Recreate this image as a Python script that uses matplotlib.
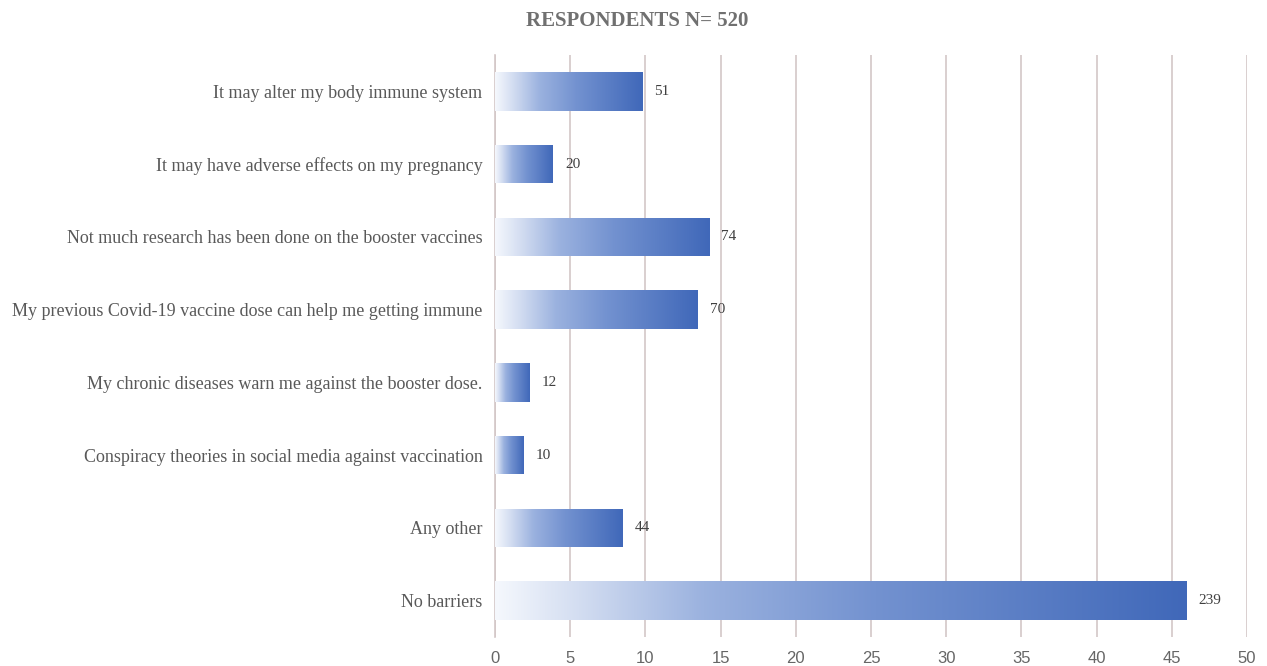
import matplotlib.pyplot as plt
from matplotlib.colors import LinearSegmentedColormap
import numpy as np

# Data
categories = [
    'It may alter my body immune system',
    'It may have adverse effects on my pregnancy',
    'Not much research has been done on the booster vaccines',
    'My previous Covid-19 vaccine dose can help me getting immune',
    'My chronic diseases warn me against the booster dose.',
    'Conspiracy theories in social media against vaccination',
    'Any other',
    'No barriers',
]
counts = [51, 20, 74, 70, 12, 10, 44, 239]
total = 520
percents = [c / total * 100 for c in counts]
x_ticks = [0, 5, 10, 15, 20, 25, 30, 35, 40, 45, 50]

serif = ['Liberation Serif', 'DejaVu Serif']
narrow = ['Liberation Sans Narrow', 'Liberation Sans', 'DejaVu Sans']

# Gradient colours (light on the left, blue on the right)
grad = LinearSegmentedColormap.from_list('bar_grad', [
    (0.0, '#f5f8fd'),
    (0.12, '#d3ddf1'),
    (0.3, '#9bb2df'),
    (0.55, '#7392d0'),
    (1.0, '#4068b9'),
])

fig = plt.figure(figsize=(12.67, 6.66), dpi=100)
ax = fig.add_axes([0.3907, 0.0435, 0.5935, 0.874])

y = np.arange(len(categories))
bars = ax.barh(y, percents, height=0.53, color='none', edgecolor='none')

gradient = np.linspace(0, 1, 256).reshape(1, -1)
for bar in bars:
    x0, y0 = bar.get_x(), bar.get_y()
    w, h = bar.get_width(), bar.get_height()
    im = ax.imshow(gradient, cmap=grad, aspect='auto', interpolation='bicubic',
                   extent=[x0, x0 + w, y0 + h, y0], zorder=3)
    im.set_clip_path(bar)

# Value labels
for yi, p, c in zip(y, percents, counts):
    ax.text(p + 0.8, yi, str(c), va='center', ha='left', fontsize=11,
            color='#404040', family=serif, zorder=4)

ax.set_xlim(0, 50)
ax.set_ylim(len(categories) - 0.5, -0.5)
ax.set_xticks(x_ticks)
ax.set_xticklabels([str(t) for t in x_ticks], family=narrow, fontsize=12, color='#666666')
ax.set_yticks(y)
ax.set_yticklabels(categories, family=serif, fontsize=13, color='#595959')
ax.tick_params(axis='x', length=0, pad=10)
ax.tick_params(axis='y', length=0, pad=9)

ax.grid(axis='x', color='#d3c7c7', linewidth=1.2, zorder=0)
ax.set_axisbelow(True)
for side in ['top', 'right', 'bottom']:
    ax.spines[side].set_visible(False)
ax.spines['left'].set_color('#d3c7c7')
ax.spines['left'].set_linewidth(1.2)

fig.text(0.503, 0.968, 'RESPONDENTS N= 520', ha='center', va='center',
         fontsize=15, fontweight='bold', color='#707070', family=serif)

plt.savefig('out.png', dpi=100)
plt.close()
